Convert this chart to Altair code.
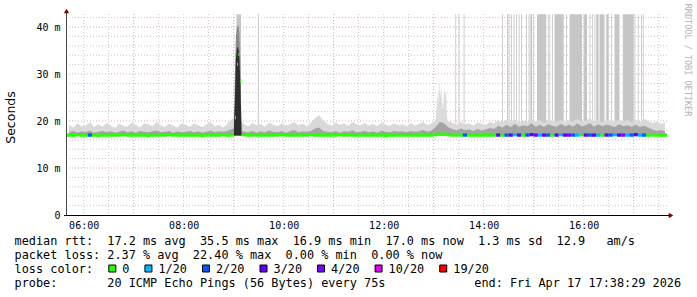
import altair as alt
import pandas as pd

# ------------------------------------------------------------------ data
START, END = "05:40", "17:40"      # time span of the graph
STEP_MIN = 5                        # minutes per smoke sample below

# top of the light smoke (ms), one value per 5 minutes from 05:40
smoke_hi = [
    19.2, 18.6, 19.5, 18.9, 19.0, 19.8, 18.7, 19.3, 18.8, 19.6,
    19.1, 18.5, 19.4, 19.0, 18.8, 19.7, 19.2, 18.6, 19.5, 19.3,
    18.9, 19.8, 19.1, 18.7, 19.4, 19.0, 18.6, 19.6, 19.2, 18.8,
    19.5, 19.1, 18.7, 19.3, 19.7, 18.9, 19.2, 18.6, 19.4, 20.4,
    20.8, 20.2, 19.3, 18.9, 19.6, 19.1, 19.4, 18.8, 19.7, 19.2,
    18.9, 19.5, 19.0, 19.3, 19.8, 19.1, 19.4, 18.9, 19.6, 20.6,
    21.2, 20.1, 19.4, 19.0, 19.7, 19.2, 19.5, 19.0, 19.8, 19.3,
    19.1, 19.6, 19.0, 19.4, 18.9, 19.7, 19.2, 19.0, 19.5, 19.1,
    19.3, 18.9, 19.6, 19.0, 19.4, 19.8, 19.1, 19.5, 20.2, 20.6,
    20.4, 20.0, 19.6, 19.2, 19.8, 19.3, 19.5, 19.0, 19.7, 19.4,
    19.2, 19.8, 19.5, 20.2, 19.6, 20.4, 19.9, 20.3, 19.7, 20.1,
    19.8, 20.5, 19.9, 20.2, 19.6, 20.4, 20.0, 19.8, 20.3, 19.7,
    20.2, 19.9, 20.5, 19.8, 20.1, 20.6, 19.9, 20.3, 19.7, 20.2,
    20.0, 19.8, 20.4, 19.9, 20.2, 19.7, 20.3, 19.8, 20.5, 20.0,
    19.6, 19.9, 19.4, 19.7,
]
# top of the dense (darker) smoke
smoke_mid = [
    17.6, 17.9, 17.5, 17.8, 17.6, 18.0, 17.5, 17.7, 17.9, 17.6,
    17.8, 17.5, 17.7, 18.0, 17.6, 17.8, 17.5, 17.9, 17.7, 17.6,
    17.8, 18.0, 17.6, 17.7, 17.9, 17.5, 17.8, 17.6, 17.7, 17.9,
    17.6, 17.8, 17.5, 17.7, 18.0, 17.6, 17.8, 17.7, 17.9, 18.3,
    18.5, 18.2, 17.7, 17.6, 17.9, 17.5, 17.8, 17.6, 18.0, 17.7,
    17.6, 17.9, 17.5, 17.8, 18.1, 17.6, 17.8, 17.7, 17.9, 18.4,
    18.6, 17.9, 17.7, 17.6, 17.9, 17.5, 17.8, 17.7, 18.0, 17.6,
    17.7, 17.9, 17.6, 17.8, 17.5, 18.0, 17.7, 17.6, 17.9, 17.7,
    17.8, 17.6, 17.9, 17.7, 17.8, 18.1, 17.7, 18.0, 18.8, 19.8,
    19.5, 18.6, 18.3, 18.0, 18.4, 18.1, 18.2, 17.9, 18.3, 18.0,
    18.2, 18.5, 18.3, 19.0, 18.6, 19.2, 18.7, 19.4, 18.8, 19.1,
    18.9, 19.5, 18.8, 19.2, 18.7, 19.3, 19.0, 18.8, 19.4, 18.9,
    19.2, 18.8, 19.5, 18.9, 19.1, 19.6, 18.8, 19.3, 18.9, 19.2,
    19.0, 18.7, 19.3, 18.9, 19.1, 18.8, 19.2, 18.7, 19.0, 18.6,
    18.2, 17.9, 18.1, 17.8,
]
# median rtt (ms); None where the burst below takes over
median = [
    17.0, 17.0, 17.1, 17.0, 17.0, 17.0, 17.0, 16.9, 17.0, 17.0,
    17.0, 17.0, 17.0, 17.1, 17.0, 17.0, 17.0, 17.0, 17.0, 16.9,
    17.0, 17.0, 17.0, 17.0, 17.1, 17.0, 17.0, 17.0, 17.0, 17.0,
    17.0, 17.0, 16.9, 17.0, 17.0, 17.0, 17.0, 17.1, 17.0, 17.0,
    None, None, 17.1, 17.0, 17.0, 17.0, 17.0, 17.0, 17.0, 17.0,
    17.0, 17.1, 17.0, 17.0, 17.0, 17.0, 17.0, 17.0, 17.1, 17.0,
    17.0, 17.0, 17.0, 17.0, 17.0, 17.1, 17.0, 17.0, 17.0, 17.0,
    17.0, 17.0, 17.0, 17.0, 17.0, 17.0, 16.9, 17.0, 17.0, 17.0,
    17.0, 17.0, 17.0, 17.0, 17.0, 17.0, 17.0, 17.0, 17.1, 17.2,
    17.2, 17.1, 17.0, 17.0, 17.0, 17.0, 17.0, 17.0, 17.0, 17.0,
    17.0, 17.0, 17.0, 17.0, 17.0, 17.0, 17.0, 17.1, 17.0, 17.0,
    17.0, 17.1, 17.0, 17.0, 17.0, 17.0, 17.0, 17.0, 17.1, 17.0,
    17.0, 17.0, 17.0, 17.1, 17.0, 17.0, 17.0, 17.0, 17.0, 17.0,
    17.0, 17.1, 17.0, 17.0, 17.0, 17.0, 17.1, 17.0, 17.0, 17.0,
    17.0, 17.0, 17.0, 17.0,
]
# lost pings out of 20
loss = [
    0, 0, 0, 0, 0, 2, 0, 0, 0, 0,
    0, 0, 0, 0, 0, 0, 0, 0, 0, 0,
    0, 0, 0, 0, 0, 0, 0, 0, 0, 0,
    0, 0, 0, 0, 0, 0, 0, 0, 0, 0,
    0, 0, 0, 0, 0, 0, 0, 0, 0, 0,
    0, 0, 0, 0, 0, 0, 0, 0, 0, 0,
    0, 0, 0, 0, 0, 0, 0, 0, 0, 0,
    0, 0, 0, 0, 0, 0, 0, 0, 0, 0,
    0, 0, 0, 0, 0, 0, 0, 0, 0, 0,
    0, 0, 0, 0, 0, 2, 0, 0, 0, 0,
    0, 0, 0, 3, 0, 2, 3, 1, 3, 0,
    2, 3, 3, 1, 3, 2, 0, 3, 1, 3,
    4, 2, 1, 0, 3, 2, 3, 1, 0, 3,
    2, 1, 3, 4, 1, 2, 3, 1, 2, 0,
    0, 0, 0, 0,
]
SMOKE_LO = 16.9          # min rtt, base of the smoke

# jagged smoke hump around 13:05-13:15 (finer resolution)
hump_t = ["13:02:00", "13:03:10", "13:04:20", "13:05:30", "13:06:40", "13:07:50",
          "13:09:00", "13:10:10", "13:11:20", "13:12:30", "13:13:40", "13:14:50",
          "13:16:00", "13:17:10"]
hump_hi = [19.5, 22.0, 26.0, 23.5, 28.7, 25.0, 27.5, 24.0, 22.5, 27.0, 25.5, 26.5,
           21.0, 19.8]

# single slow pings reaching the top of the graph
spike_start = ["09:03:20", "09:29", "13:26", "13:30", "13:36",
               "14:22", "14:28", "14:30", "14:33", "14:36", "14:39", "14:42",
               "14:45", "14:51", "14:54", "14:56", "14:59", "15:04", "15:17",
               "15:19", "15:22", "15:25", "15:39", "15:43", "16:00", "16:07",
               "16:10", "16:13", "16:15", "16:19", "16:27", "16:33", "16:37",
               "16:47", "17:01", "17:05", "17:09", "17:11"]
spike_end = ["09:08:50", "09:30", "13:27", "13:31", "13:37",
             "14:23", "14:29", "14:31", "14:34", "14:37", "14:40", "14:43",
             "14:46", "14:52", "14:55", "14:58", "15:00", "15:15", "15:18",
             "15:20", "15:23", "15:36", "15:40", "15:58", "16:04", "16:08",
             "16:11", "16:14", "16:18", "16:25", "16:30", "16:34", "16:43",
             "17:00", "17:02", "17:06", "17:10", "17:12"]
SPIKE_TOP = 42.7

# the 09:00 latency burst, finer resolution
burst_t = ["09:00:20", "09:01:30", "09:02:40", "09:04:00", "09:05:20",
           "09:06:40", "09:08:00", "09:09:20"]
burst_mid = [19.5, 30.0, 38.0, 40.0, 40.5, 39.0, 33.0, 19.0]
burst_core = [19.0, 24.0, 33.0, 35.5, 35.8, 34.0, 28.0, 18.5]
burst_med_t = ["09:01:36", "09:04:00", "09:05:34", "09:06:46", "09:07:58"]
burst_med = [20.7, 32.1, 34.2, 35.5, 28.5]

loss_values = [0, 1, 2, 3, 4, 10, 19]
loss_labels = ["0", "1/20", "2/20", "3/20", "4/20", "10/20", "19/20"]
loss_colors = ["#26ff00", "#00b8ff", "#0059ff", "#5e00ff", "#7e00ff",
               "#dd00ff", "#ff0000"]

y_ticks = [0, 10, 20, 30, 40]
x_ticks = [6, 8, 10, 12, 14, 16]
y_label = "Seconds"
watermark = "RRDTOOL / TOBI OETIKER"
legend_lines = [
    "median rtt:  17.2 ms avg  35.5 ms max  16.9 ms min  17.0 ms now  1.3 ms sd  12.9   am/s",
    "packet loss: 2.37 % avg  22.40 % max  0.00 % min  0.00 % now",
    "loss color:",
    "probe:       20 ICMP Echo Pings (56 Bytes) every 75s",
]
end_text = "end: Fri Apr 17 17:38:29 2026"

# ------------------------------------------------------------------ layout
W, H = 600, 201
Y_MAX = 42.77
MONO = "DejaVu Sans Mono"
LEG_FS = 11.85
CHAR_W = 7.134
NB = "\u00a0"


def hrs(s):
    p = [int(v) for v in s.split(":")]
    while len(p) < 3:
        p.append(0)
    return p[0] + p[1] / 60 + p[2] / 3600


t0 = hrs(START)
step = STEP_MIN / 60
bins = pd.DataFrame({
    "t": [t0 + i * step for i in range(len(smoke_hi))],
    "hi": smoke_hi, "mid": smoke_mid, "med": median, "loss": loss,
})
bins["t2"] = bins["t"] + step
bins["c"] = bins["t"] + step / 2
bins["lo"] = SMOKE_LO
med_df = bins.dropna(subset=["med"]).copy()
med_df["m1"] = med_df["med"] - 0.35
med_df["m2"] = med_df["med"] + 0.35

hump = pd.DataFrame({"t": [hrs(s) for s in hump_t], "hi": hump_hi})
hump["lo"] = SMOKE_LO

spikes = pd.DataFrame({"a": [hrs(s) for s in spike_start],
                       "b": [hrs(s) for s in spike_end]})
spikes["lo"] = 17.2
spikes["top"] = SPIKE_TOP

burst = pd.DataFrame({"t": [hrs(s) for s in burst_t], "mid": burst_mid,
                      "core": burst_core})
burst["lo"] = SMOKE_LO
bmed = pd.DataFrame({"t": [hrs(s) for s in burst_med_t], "med": burst_med})
bmed["t2"] = bmed["t"] + 1.2 / 60
bmed["m1"] = bmed["med"] - 0.35
bmed["m2"] = bmed["med"] + 0.35
bmed["loss"] = 0

XS = alt.Scale(domain=[t0, hrs(END)], nice=False, zero=False)
YS = alt.Scale(domain=[0, Y_MAX], nice=False)
CS = alt.Scale(domain=loss_values, range=loss_colors)

hminor = pd.DataFrame({"v": [v for v in range(2, 43, 2) if v % 10]})
hmajor = pd.DataFrame({"v": [v for v in range(10, 43, 10)]})
vminor = pd.DataFrame({"v": [6 + k * 0.5 for k in range(24) if (6 + k * 0.5) % 2 != 1]})
vmajor = pd.DataFrame({"v": [7, 9, 11, 13, 15, 17]})

XA = alt.Axis(values=x_ticks, labelExpr="(datum.value < 10 ? '0' : '') + datum.value + ':00'",
              labelFont=MONO, labelFontSize=10, labelColor="#000", labelPadding=5,
              domain=False, ticks=False, grid=False, title=None, labelFlush=False)
YA = alt.Axis(values=y_ticks,
              labelExpr="datum.value == 0 ? '0" + NB + NB + "' : datum.value + ' m'",
              labelFont=MONO, labelFontSize=10, labelColor="#000", labelPadding=7,
              domain=False, ticks=False, grid=False, title=None)


def X(f):
    return alt.X(f, scale=XS, axis=XA)


def Y(f):
    return alt.Y(f, scale=YS, axis=YA)


layers = []
layers.append(alt.Chart(hminor).mark_rule(color="#c8c8c8", strokeDash=[1, 2]).encode(y=Y("v:Q")))
layers.append(alt.Chart(hmajor).mark_rule(color="#e8a4a4", strokeDash=[1, 2]).encode(y=Y("v:Q")))
layers.append(alt.Chart(vminor).mark_rule(color="#c8c8c8", strokeDash=[1, 2]).encode(x=X("v:Q")))
layers.append(alt.Chart(vmajor).mark_rule(color="#e8a4a4", strokeDash=[1, 2]).encode(x=X("v:Q")))

layers.append(alt.Chart(spikes).mark_rect(color="#c6c6c6", clip=True).encode(
    x=X("a:Q"), x2="b:Q", y=Y("lo:Q"), y2="top:Q"))
layers.append(alt.Chart(hump).mark_area(color="#dcdcdc", clip=True).encode(
    x=X("t:Q"), y=Y("hi:Q"), y2="lo:Q"))
layers.append(alt.Chart(bins).mark_area(color="#d9d9d9", clip=True).encode(
    x=X("c:Q"), y=Y("hi:Q"), y2="lo:Q"))
layers.append(alt.Chart(bins).mark_area(color="#a4a4a4", clip=True).encode(
    x=X("c:Q"), y=Y("mid:Q"), y2="lo:Q"))
layers.append(alt.Chart(burst).mark_area(color="#8a8a8a", clip=True).encode(
    x=X("t:Q"), y=Y("mid:Q"), y2="lo:Q"))
layers.append(alt.Chart(burst).mark_area(color="#2e2e2e", clip=True).encode(
    x=X("t:Q"), y=Y("core:Q"), y2="lo:Q"))
layers.append(alt.Chart(med_df).mark_rect(clip=True).encode(
    x=X("t:Q"), x2="t2:Q", y=Y("m1:Q"), y2="m2:Q",
    color=alt.Color("loss:N", scale=CS, legend=None)))
layers.append(alt.Chart(bmed).mark_rect(clip=True).encode(
    x=X("t:Q"), x2="t2:Q", y=Y("m1:Q"), y2="m2:Q",
    color=alt.Color("loss:N", scale=CS, legend=None)))

one = pd.DataFrame({"k": [0]})
# axis lines and arrows
layers.append(alt.Chart(one).mark_rule(color="#000", strokeWidth=1).encode(
    x=alt.value(-3), x2=alt.value(603), y=alt.value(201.5)))
layers.append(alt.Chart(one).mark_rule(color="#444", strokeWidth=1).encode(
    x=alt.value(-0.5), y=alt.value(-4), y2=alt.value(201.5)))
layers.append(alt.Chart(one).mark_point(shape="triangle-up", filled=True, color="#7f0000",
                                        size=28, opacity=1).encode(
    x=alt.value(-0.5), y=alt.value(-3)))
layers.append(alt.Chart(one).mark_point(shape="triangle-right", filled=True, color="#7f0000",
                                        size=28, opacity=1).encode(
    x=alt.value(604), y=alt.value(201.5)))

# texts
layers.append(alt.Chart(pd.DataFrame({"s": [y_label]})).mark_text(
    font="DejaVu Sans", fontSize=12.5, angle=270, align="center", baseline="middle",
    color="#000").encode(text="s:N", x=alt.value(-56), y=alt.value(103.5)))
layers.append(alt.Chart(pd.DataFrame({"s": [watermark]})).mark_text(
    font=MONO, fontSize=8.5, angle=90, align="center", baseline="middle",
    color="#b4b4b4").encode(text="s:N", x=alt.value(621), y=alt.value(46)))

LX = 14.6 - 67
for i, line in enumerate(legend_lines):
    layers.append(alt.Chart(pd.DataFrame({"s": [line.replace(" ", NB)]})).mark_text(
        font=MONO, fontSize=LEG_FS, align="left", baseline="alphabetic", color="#000").encode(
        text="s:N", x=alt.value(LX), y=alt.value(231 + 14 * i)))
layers.append(alt.Chart(pd.DataFrame({"s": [end_text.replace(" ", NB)]})).mark_text(
    font=MONO, fontSize=LEG_FS, align="left", baseline="alphabetic", color="#000").encode(
    text="s:N", x=alt.value(LX + 65 * CHAR_W - 4), y=alt.value(231 + 14 * 3)))

# loss colour swatches
sq_left = 108.3 - 67
for val, lab, col in zip(loss_values, loss_labels, loss_colors):
    layers.append(alt.Chart(pd.DataFrame({"v": [val]})).mark_square(
        size=49, color=col, stroke="#000", strokeWidth=1, opacity=1).encode(
        x=alt.value(sq_left + 4), y=alt.value(254.5)))
    lx = sq_left + 14
    layers.append(alt.Chart(pd.DataFrame({"s": [lab]})).mark_text(
        font=MONO, fontSize=LEG_FS, align="left", baseline="alphabetic", color="#000").encode(
        text="s:N", x=alt.value(lx), y=alt.value(259)))
    sq_left = lx + len(lab) * CHAR_W + 15

chart = alt.layer(*layers).properties(
    width=W, height=H,
    padding={"left": 67, "top": 14, "right": 30, "bottom": 82},
    autosize=alt.AutoSizeParams(type="none"),
    background="#ffffff",
).configure_view(stroke=None)

chart.save("out.html", embed_options={"renderer": "svg", "actions": False})
